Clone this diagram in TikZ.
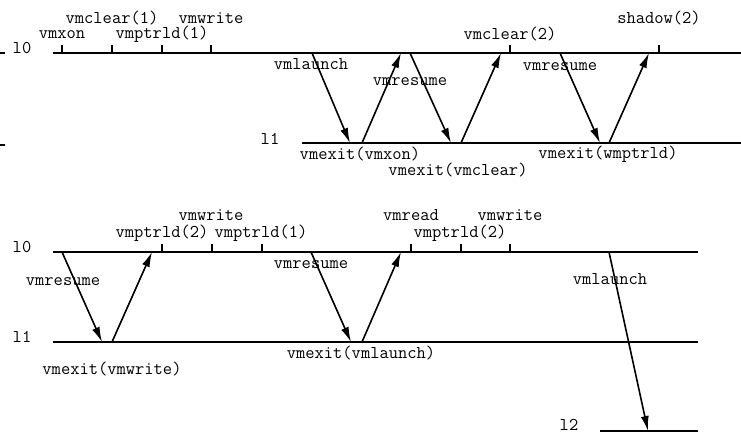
\documentclass[tikz,border=0pt]{standalone}
\usetikzlibrary{arrows.meta}
\begin{document}
\begin{tikzpicture}[x=1pt,y=-1pt,
  lvl/.style={line width=1.6pt},
  tk/.style={line width=1.6pt},
  msg/.style={line width=1.6pt,-{Latex[length=15pt,width=8pt]}},
  lbl/.style={font=\ttfamily\fontsize{18}{18}\selectfont, anchor=base, inner sep=0pt}]
\useasboundingbox (0,0) rectangle (741,434);

% ---------- top section ----------
\coordinate (Ta0) at (53,53);  \coordinate (Ta1) at (741,53);
\coordinate (Tb0) at (302,143); \coordinate (Tb1) at (741,143);
\draw[lvl] (Ta0) -- (Ta1);
\draw[lvl] (Tb0) -- (Tb1);
\coordinate (Ed1a) at (0,53); \coordinate (Ed1b) at (5,53);
\coordinate (Ed2a) at (0,145); \coordinate (Ed2b) at (5,145);
\draw[lvl] (Ed1a) -- (Ed1b);
\draw[lvl] (Ed2a) -- (Ed2b);

\node[lbl] (tl0) at (22,53) {l0};
\node[lbl] (tl1) at (270,144) {l1};

\foreach \x/\n in {62/t1,112/t2,162/t3,211/t4,510/t5,659/t6}{
  \coordinate (\n) at (\x,53);
  \draw[tk] (\n) -- ++(0,-8);
}
\node[lbl] (lvmxon) at (62,38) {vmxon};
\node[lbl] (lvmclear1) at (112,23) {vmclear(1)};
\node[lbl] (lvmptrld1) at (162,38) {vmptrld(1)};
\node[lbl] (lvmwrite) at (211,23) {vmwrite};
\node[lbl] (lvmclear2) at (510,39) {vmclear(2)};
\node[lbl] (lshadow) at (659,23) {shadow(2)};

\coordinate (A1s) at (312,53);  \coordinate (A1e) at (350,143);
\coordinate (A2s) at (362,143); \coordinate (A2e) at (401,53);
\coordinate (A3s) at (410,53);  \coordinate (A3e) at (451,143);
\coordinate (A4s) at (461,143); \coordinate (A4e) at (501,53);
\coordinate (A5s) at (560,53);  \coordinate (A5e) at (600,143);
\coordinate (A6s) at (609,143); \coordinate (A6e) at (649,53);
\draw[msg] (A1s) -- (A1e);
\draw[msg] (A2s) -- (A2e);
\draw[msg] (A3s) -- (A3e);
\draw[msg] (A4s) -- (A4e);
\draw[msg] (A5s) -- (A5e);
\draw[msg] (A6s) -- (A6e);

\node[lbl] (lvmlaunch1) at (311,69) {vmlaunch};
\node[lbl] (lvmresume1) at (410,85.5) {vmresume};
\node[lbl] (lvmresume2) at (560,70) {vmresume};
\node[lbl] (lexit1) at (360,159) {vmexit(vmxon)};
\node[lbl] (lexit2) at (458,175) {vmexit(vmclear)};
\node[lbl] (lexit3) at (608,158) {vmexit(wmptrld)};

% ---------- bottom section ----------
\coordinate (Ba0) at (53,252);  \coordinate (Ba1) at (698,252);
\coordinate (Bb0) at (53,342);  \coordinate (Bb1) at (698,342);
\coordinate (Bc0) at (600,431); \coordinate (Bc1) at (698,431);
\draw[lvl] (Ba0) -- (Ba1);
\draw[lvl] (Bb0) -- (Bb1);
\draw[lvl] (Bc0) -- (Bc1);

\node[lbl] (bl0) at (22,252) {l0};
\node[lbl] (bl1) at (22,342) {l1};
\node[lbl] (bl2) at (569,430) {l2};

\foreach \x/\n in {162/u1,212/u2,262/u3,411/u4,461/u5,510/u6}{
  \coordinate (\n) at (\x,252);
  \draw[tk] (\n) -- ++(0,-8);
}
\node[lbl] (bvmptrld2) at (162,237.5) {vmptrld(2)};
\node[lbl] (bvmwrite1) at (211,220) {vmwrite};
\node[lbl] (bvmptrld1) at (261,237.5) {vmptrld(1)};
\node[lbl] (bvmread) at (411,220) {vmread};
\node[lbl] (bvmptrld2b) at (460,237.5) {vmptrld(2)};
\node[lbl] (bvmwrite2) at (510,220) {vmwrite};

\coordinate (B1s) at (62,252);  \coordinate (B1e) at (102,342);
\coordinate (B2s) at (112,342); \coordinate (B2e) at (152,252);
\coordinate (B3s) at (311,252); \coordinate (B3e) at (351,342);
\coordinate (B4s) at (362,342); \coordinate (B4e) at (401,252);
\coordinate (B5s) at (609,252); \coordinate (B5e) at (648,431);
\draw[msg] (B1s) -- (B1e);
\draw[msg] (B2s) -- (B2e);
\draw[msg] (B3s) -- (B3e);
\draw[msg] (B4s) -- (B4e);
\draw[msg] (B5s) -- (B5e);

\node[lbl] (bvmresume1) at (63,285) {vmresume};
\node[lbl] (bvmresume2) at (311,268) {vmresume};
\node[lbl] (bvmlaunch) at (610,284) {vmlaunch};
\node[lbl] (bexit1) at (112,374) {vmexit(vmwrite)};
\node[lbl] (bexit2) at (361,358) {vmexit(vmlaunch)};
\end{tikzpicture}
\end{document}
